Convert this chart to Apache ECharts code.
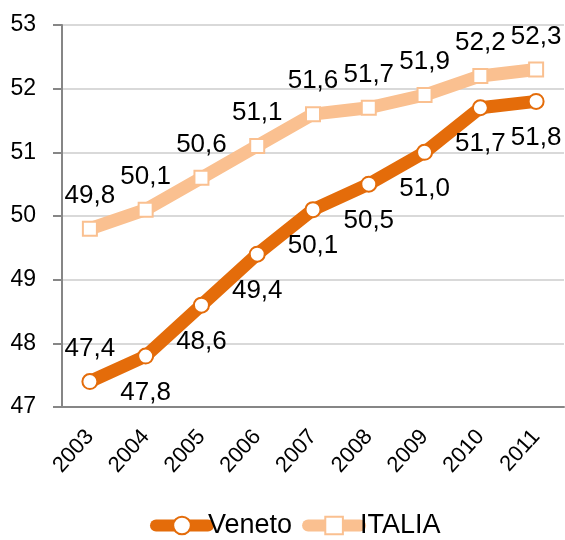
<!DOCTYPE html>
<html>
<head>
<meta charset="utf-8">
<script src="https://cdn.jsdelivr.net/npm/echarts@6/dist/echarts.min.js"></script>
<style>
html,body{margin:0;padding:0;background:#fff;}
#c{width:565px;height:540px;}
</style>
</head>
<body>
<div id="c"></div>
<script>
const years = ['2003','2004','2005','2006','2007','2008','2009','2010','2011'];
const veneto = [47.4, 47.8, 48.6, 49.4, 50.1, 50.5, 51.0, 51.7, 51.8];
const italia = [49.8, 50.1, 50.6, 51.1, 51.6, 51.7, 51.9, 52.2, 52.3];
const yTicks = [47, 48, 49, 50, 51, 52, 53];

const FONT = '"Liberation Sans", Arial, sans-serif';
const fmt = p => p.value.toFixed(1).replace('.', ',');
const DARK = '#E46C0A', LIGHT = '#FAC090';

const chart = echarts.init(document.getElementById('c'), null, {renderer: 'canvas'});
chart.setOption({
  animation: false,
  backgroundColor: '#fff',
  grid: {left: 62, top: 25, right: 1, bottom: 133, containLabel: false},
  xAxis: {
    type: 'category',
    data: years,
    boundaryGap: true,
    axisLine: {lineStyle: {color: '#868686', width: 2}},
    axisTick: {alignWithLabel: true, length: 6, lineStyle: {color: '#868686', width: 2}},
    axisLabel: {rotate: 48, margin: 26, color: '#000', fontSize: 22, fontFamily: FONT}
  },
  yAxis: {
    type: 'value',
    min: yTicks[0],
    max: yTicks[yTicks.length - 1],
    interval: 1,
    axisLine: {show: true, lineStyle: {color: '#868686', width: 2}},
    axisTick: {show: true, length: 9, lineStyle: {color: '#868686', width: 2}},
    axisLabel: {margin: 26, color: '#000', fontSize: 23, fontFamily: FONT},
    splitLine: {show: true, lineStyle: {color: '#D9D9D9', width: 2}}
  },
  legend: {
    top: 507,
    left: 145,
    itemWidth: 52,
    itemHeight: 22,
    itemGap: 10,
    textStyle: {fontSize: 27, fontFamily: FONT, color: '#000', padding: [0,0,0,-5]},
    lineStyle: {width: 12, cap: 'round'},
    data: ['Veneto', 'ITALIA']
  },
  series: [
    {
      name: 'ITALIA',
      type: 'line',
      data: italia,
      symbol: 'rect',
      symbolSize: 14,
      z: 2,
      lineStyle: {color: LIGHT, width: 13, cap: 'round', join: 'round'},
      itemStyle: {color: '#FFFFFF', borderColor: LIGHT, borderWidth: 2},
      label: {show: true, position: 'top', distance: 12, formatter: fmt, color: '#000', fontSize: 26, fontFamily: FONT}
    },
    {
      name: 'Veneto',
      type: 'line',
      data: veneto.map((v, i) => i === 0 ? {value: v, label: {position: 'top', distance: 11}} : v),
      symbol: 'circle',
      symbolSize: 15,
      z: 3,
      lineStyle: {color: DARK, width: 13, cap: 'round', join: 'round'},
      itemStyle: {color: '#FFFFFF', borderColor: DARK, borderWidth: 2},
      label: {show: true, position: 'bottom', distance: 15, formatter: fmt, color: '#000', fontSize: 26, fontFamily: FONT}
    }
  ]
});
</script>
</body>
</html>
